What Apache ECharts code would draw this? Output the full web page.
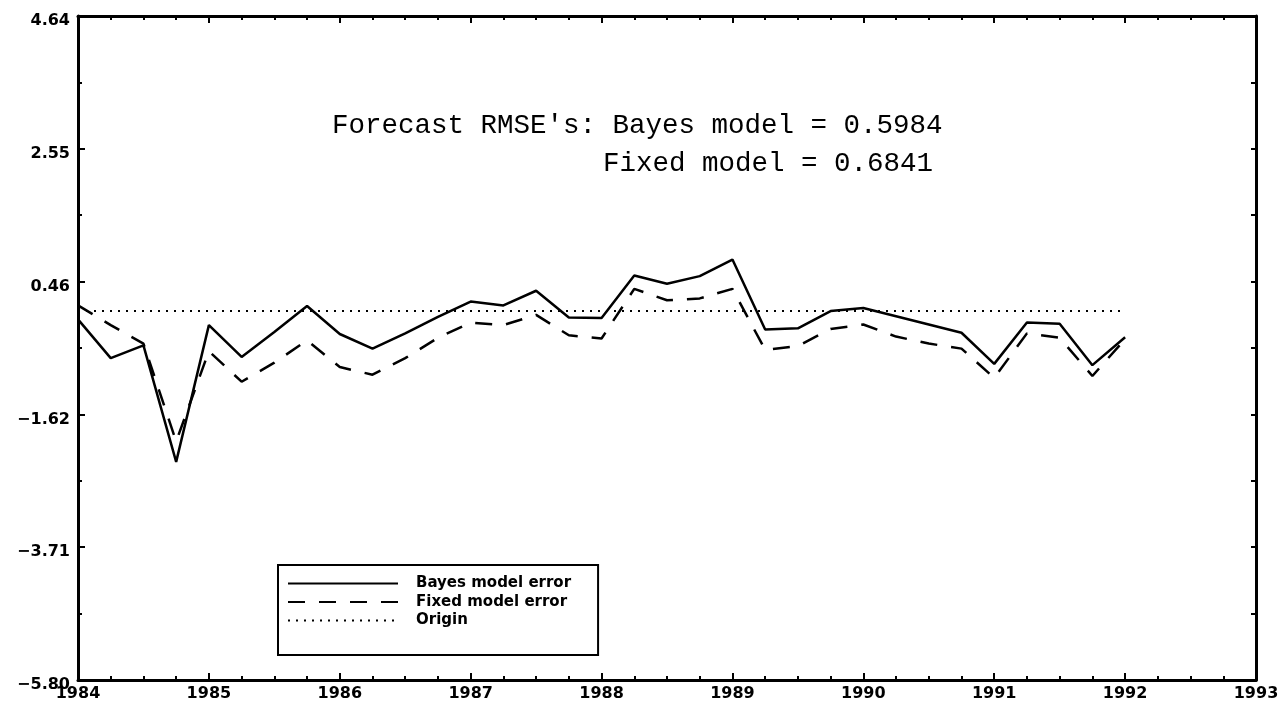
<!DOCTYPE html>
<html>
<head>
<meta charset="utf-8">
<script src="https://cdn.jsdelivr.net/npm/echarts@6/dist/echarts.min.js"></script>
<style>
  html, body { margin: 0; padding: 0; background: #fff; }
  #chart { width: 1283px; height: 715px; }
</style>
</head>
<body>
<div id="chart"></div>
<script>
// quarterly forecast dates, 1984 Q1 .. 1992 Q1
const quarters = [
  1984.00, 1984.25, 1984.50, 1984.75, 1985.00, 1985.25, 1985.50, 1985.75,
  1986.00, 1986.25, 1986.50, 1986.75, 1987.00, 1987.25, 1987.50, 1987.75,
  1988.00, 1988.25, 1988.50, 1988.75, 1989.00, 1989.25, 1989.50, 1989.75,
  1990.00, 1990.25, 1990.50, 1990.75, 1991.00, 1991.25, 1991.50, 1991.75,
  1992.00
]

// forecast errors
const bayesError = [
  -0.13, -0.74, -0.54, -2.37, -0.22, -0.72, -0.33, 0.08,
  -0.36, -0.59, -0.35, -0.09, 0.15, 0.09, 0.32, -0.10,
  -0.11, 0.56, 0.43, 0.55, 0.81, -0.29, -0.27, 0.00,
  0.05, -0.08, -0.21, -0.34, -0.83, -0.18, -0.20, -0.85,
  -0.41
]
const fixedError = [
  0.09, -0.22, -0.51, -2.05, -0.63, -1.11, -0.81, -0.46,
  -0.88, -1.00, -0.74, -0.42, -0.18, -0.22, -0.06, -0.38,
  -0.43, 0.35, 0.17, 0.20, 0.35, -0.61, -0.55, -0.28,
  -0.21, -0.40, -0.51, -0.59, -1.05, -0.35, -0.42, -1.02,
  -0.44
]
const originX = [1984, 1992]
const originY = [0, 0]

// axis ticks
const yMajorTicks = [-5.80, -3.712, -1.624, 0.464, 2.552, 4.64]
const yMinorTicks = [-4.756, -2.668, -0.58, 1.508, 3.596]
const yMin = -5.80
const yMax = 4.64
const xMin = 1984
const xMax = 1993

const titleLine1 = "Forecast RMSE's: Bayes model = 0.5984"
const titleLine2 = 'Fixed model = 0.6841'

const pairs = (xs, ys) => xs.map((x, i) => [x, ys[i]])

const chart = echarts.init(document.getElementById('chart'))

const axisLineStyle = { color: '#000', width: 3 }
const labelFont = { color: '#000', fontFamily: 'DejaVu Sans', fontWeight: 'bold', fontSize: 16 }
const titleFont = { color: '#000', fontFamily: 'Liberation Mono', fontWeight: 'normal', fontSize: 27.5 }

const option = {
  animation: false,
  backgroundColor: '#fff',
  title: [
    { text: titleLine1, left: 332, top: 112, padding: 0, textStyle: titleFont },
    { text: titleLine2, left: 603, top: 150, padding: 0, textStyle: titleFont }
  ],
  legend: {
    orient: 'vertical',
    left: 278,
    top: 565,
    padding: [11, 27, 27, 9],
    itemWidth: 110,
    itemHeight: 14,
    itemGap: 3.5,
    borderColor: '#000',
    borderWidth: 2,
    borderRadius: 0,
    backgroundColor: '#fff',
    selectedMode: false,
    itemStyle: { opacity: 0 },
    textStyle: {
      color: '#000', fontFamily: 'DejaVu Sans', fontWeight: 'bold', fontSize: 15,
      padding: [0, 0, 0, 13]
    },
    data: ['Bayes model error', 'Fixed model error', 'Origin']
  },
  grid: { left: 78, right: 27, top: 16, bottom: 35 },
  xAxis: [
    {
      type: 'value', position: 'bottom', min: xMin, max: xMax, interval: 1,
      axisLine: { show: true, onZero: false, lineStyle: axisLineStyle },
      axisTick: { show: true, inside: true, length: 7, lineStyle: { color: '#000', width: 2 } },
      minorTick: { show: true, splitNumber: 4, length: 4, lineStyle: { color: '#000', width: 2 } },
      axisLabel: { ...labelFont, margin: 6, formatter: v => String(v) },
      splitLine: { show: false }
    },
    {
      type: 'value', position: 'top', min: xMin, max: xMax, interval: 1,
      axisLine: { show: true, onZero: false, lineStyle: axisLineStyle },
      axisTick: { show: true, inside: true, length: 7, lineStyle: { color: '#000', width: 2 } },
      minorTick: { show: true, splitNumber: 4, length: 4, lineStyle: { color: '#000', width: 2 } },
      axisLabel: { show: false },
      splitLine: { show: false }
    }
  ],
  yAxis: [
    {
      type: 'value', position: 'left', min: yMin, max: yMax,
      axisLine: { show: true, onZero: false, lineStyle: axisLineStyle },
      axisTick: { show: true, inside: true, length: 7, customValues: yMajorTicks, lineStyle: { color: '#000', width: 2 } },
      axisLabel: {
        ...labelFont, margin: 8, verticalAlign: 'top', lineHeight: 10,
        customValues: yMajorTicks,
        formatter: v => v.toFixed(2).replace('-', '\u2212')
      },
      splitLine: { show: false }
    },
    {
      type: 'value', position: 'left', min: yMin, max: yMax,
      axisLine: { show: false },
      axisTick: { show: true, inside: true, length: 4, customValues: yMinorTicks, lineStyle: { color: '#000', width: 2 } },
      axisLabel: { show: false },
      splitLine: { show: false }
    },
    {
      type: 'value', position: 'right', min: yMin, max: yMax,
      axisLine: { show: true, onZero: false, lineStyle: axisLineStyle },
      axisTick: { show: true, inside: true, length: 5, customValues: yMajorTicks.concat(yMinorTicks), lineStyle: { color: '#000', width: 2 } },
      axisLabel: { show: false },
      splitLine: { show: false }
    }
  ],
  series: [
    {
      name: 'Bayes model error', type: 'line', symbol: 'none',
      data: pairs(quarters, bayesError),
      lineStyle: { color: '#000', width: 2.5, type: 'solid' },
      itemStyle: { color: '#000' }
    },
    {
      name: 'Fixed model error', type: 'line', symbol: 'none',
      data: pairs(quarters, fixedError),
      lineStyle: { color: '#000', width: 2.5, type: [17, 14] },
      itemStyle: { color: '#000' }
    },
    {
      name: 'Origin', type: 'line', symbol: 'none',
      data: pairs(originX, originY),
      lineStyle: { color: '#000', width: 2, type: [2, 6] },
      itemStyle: { color: '#000' }
    }
  ]
}

chart.setOption(option)
</script>
</body>
</html>
